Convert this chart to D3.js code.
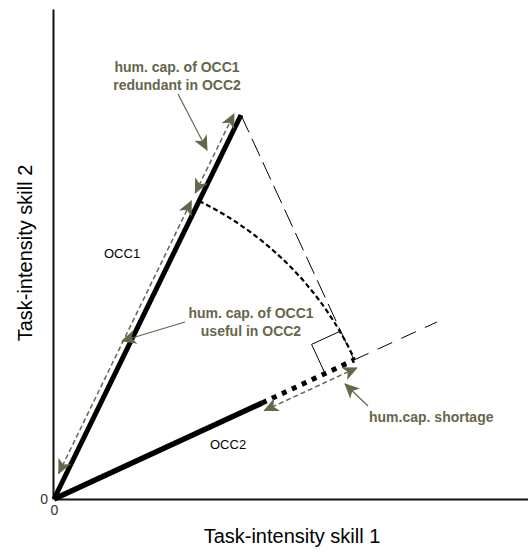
<!DOCTYPE html>
<html>
<head>
<meta charset="utf-8">
<script src="https://cdn.jsdelivr.net/npm/d3@7"></script>
<style>
  html, body { margin: 0; padding: 0; background: #fff; }
  svg { display: block; }
  text { font-family: Arial, "Liberation Sans", sans-serif; }
</style>
</head>
<body>
<div id="chart"></div>
<script>
// ---------- data (units of the two task-intensity axes) ----------
const xDomain = [0, 4.74];
const yDomain = [0, 4.90];
const tickValues = [0];
const axisLabels = ["Task-intensity skill 1", "Task-intensity skill 2"];

// occupation vectors
const occ1Line = [[0, 0], [1.87, 3.84]];
const occ2Line = [[0, 0], [2.08, 0.96]];
const occ2Shortage = [[2.08, 0.96], [3.00, 1.39]];   // dotted part
const occ2Extension = [[3.00, 1.39], [3.83, 1.77]];  // long-dash extension
const projectionLine = [[1.87, 3.84], [3.00, 1.39]]; // projection of OCC1 onto OCC2
const arcEnds = [[1.45, 2.98], [3.00, 1.39]];        // arc centred at origin
const rightAngle = [[3.00, 1.39], [2.71, 1.256], [2.576, 1.546], [2.866, 1.68]];

// double-headed dashed measurement arrows
const usefulArrow = [[0.047, 0.256], [1.374, 2.98]];
const redundantArrow = [[1.413, 3.061], [1.80, 3.852]];
const shortageArrow = [[2.103, 0.884], [3.029, 1.312]];

// annotation pointers
const pointers = [
  [[1.24, 4.05], [1.53, 3.49]],
  [[1.31, 1.77], [0.68, 1.58]],
  [[3.14, 0.93], [2.91, 1.15]]
];

// labels
const annLabels = [
  { lines: ["hum. cap. of OCC1", "redundant in OCC2"], pos: [1.23, 4.27], anchor: "middle" },
  { lines: ["hum. cap. of OCC1", "useful in OCC2"], pos: [1.97, 1.81], anchor: "middle" },
  { lines: ["hum.cap. shortage"], pos: [3.15, 0.77], anchor: "start" }
];
const occLabels = [
  { text: "OCC1", pos: [0.50, 2.41] },
  { text: "OCC2", pos: [1.56, 0.50] }
];

// ---------- drawing ----------
const W = 528, H = 552;
const olive = "#66664b";
const svg = d3.select("#chart").append("svg").attr("width", W).attr("height", H);

const x = d3.scaleLinear().domain(xDomain).range([54, 528]);
const y = d3.scaleLinear().domain(yDomain).range([499, 9]);
const line = d3.line().x(d => x(d[0])).y(d => y(d[1]));

const defs = svg.append("defs");
defs.append("marker")
  .attr("id", "ah")
  .attr("viewBox", "-16 -9 18 18")
  .attr("refX", 0).attr("refY", 0)
  .attr("markerWidth", 18).attr("markerHeight", 18)
  .attr("markerUnits", "userSpaceOnUse")
  .attr("orient", "auto-start-reverse")
  .append("path")
  .attr("d", "M1,0 L-14,-7 L-10,0 L-14,7 Z")
  .attr("fill", olive);

// axes
const xAxis = d3.axisBottom(x).tickValues(tickValues).tickSize(0).tickSizeOuter(0).tickPadding(6).tickFormat(d3.format("d"));
const yAxis = d3.axisLeft(y).tickValues(tickValues).tickSize(0).tickSizeOuter(0).tickPadding(5).tickFormat(d3.format("d"));

const gx = svg.append("g").attr("transform", `translate(0,${y(0)})`).call(xAxis);
const gy = svg.append("g").attr("transform", `translate(${x(0) - 1},0)`).call(yAxis);
[gx, gy].forEach(g => {
  g.select(".domain").attr("stroke", "#111").attr("stroke-width", 2);
  g.selectAll("text").attr("font-size", 14).attr("fill", "#333")
    .attr("font-family", "Arial, 'Liberation Sans', sans-serif");
});

svg.append("text")
  .attr("x", 292).attr("y", 543)
  .attr("text-anchor", "middle").attr("font-size", 20).attr("fill", "#000")
  .text(axisLabels[0]);
svg.append("text")
  .attr("transform", "translate(32,253) rotate(-90)")
  .attr("text-anchor", "middle").attr("font-size", 20).attr("fill", "#000")
  .text(axisLabels[1]);

// projection dashed line and extension
svg.append("path").attr("d", line(projectionLine))
  .attr("fill", "none").attr("stroke", "#000").attr("stroke-width", 1)
  .attr("stroke-dasharray", "19,7");
svg.append("path").attr("d", line(occ2Extension))
  .attr("fill", "none").attr("stroke", "#000").attr("stroke-width", 1)
  .attr("stroke-dasharray", "16,10");

// right angle marker
svg.append("path").attr("d", line(rightAngle.slice(1)))
  .attr("fill", "none").attr("stroke", "#000").attr("stroke-width", 1);

// arc
const r = Math.hypot(x(arcEnds[0][0]) - x(0), y(arcEnds[0][1]) - y(0));
const a0 = Math.atan2(y(arcEnds[0][1]) - y(0), x(arcEnds[0][0]) - x(0));
const a1 = Math.atan2(y(arcEnds[1][1]) - y(0), x(arcEnds[1][0]) - x(0));
const p = d3.path();
p.moveTo(x(arcEnds[0][0]), y(arcEnds[0][1]));
p.arc(x(0), y(0), r, a0, a1, false);
svg.append("path").attr("d", p.toString())
  .attr("fill", "none").attr("stroke", "#000").attr("stroke-width", 2.2)
  .attr("stroke-dasharray", "5,3");

// thick occupation lines
svg.append("path").attr("d", line(occ1Line))
  .attr("fill", "none").attr("stroke", "#000").attr("stroke-width", 5);
svg.append("path").attr("d", line(occ2Line))
  .attr("fill", "none").attr("stroke", "#000").attr("stroke-width", 5.5);
svg.append("path").attr("d", line(occ2Shortage))
  .attr("fill", "none").attr("stroke", "#000").attr("stroke-width", 5)
  .attr("stroke-dasharray", "5,6");

// dashed double arrows
[usefulArrow, redundantArrow, shortageArrow].forEach(seg => {
  svg.append("path").attr("d", line(seg))
    .attr("fill", "none").attr("stroke", olive).attr("stroke-width", 1.5)
    .attr("stroke-dasharray", "5,3")
    .attr("marker-start", "url(#ah)").attr("marker-end", "url(#ah)");
});

// pointer arrows
pointers.forEach(seg => {
  svg.append("path").attr("d", line(seg))
    .attr("fill", "none").attr("stroke", olive).attr("stroke-width", 1.2)
    .attr("marker-end", "url(#ah)");
});

// annotation labels
annLabels.forEach(l => {
  const t = svg.append("text")
    .attr("x", x(l.pos[0])).attr("y", y(l.pos[1]))
    .attr("text-anchor", l.anchor).attr("font-size", 14).attr("font-weight", "bold")
    .attr("fill", olive);
  l.lines.forEach((s, i) => {
    t.append("tspan").attr("x", x(l.pos[0])).attr("dy", i === 0 ? 0 : 18).text(s);
  });
});

occLabels.forEach(l => {
  svg.append("text")
    .attr("x", x(l.pos[0])).attr("y", y(l.pos[1]))
    .attr("font-size", 13).attr("fill", "#000")
    .text(l.text);
});
</script>
</body>
</html>
